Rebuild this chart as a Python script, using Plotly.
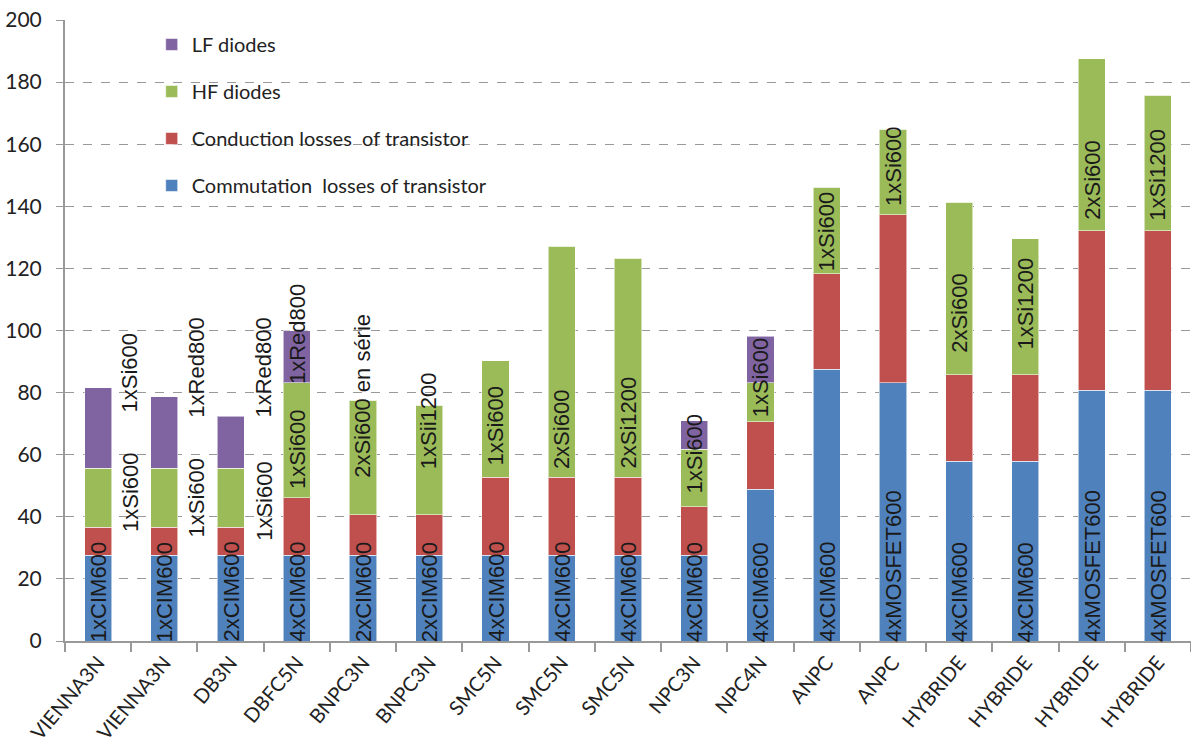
import plotly.graph_objects as go

categories = ["VIENNA3N", "VIENNA3N", "DB3N", "DBFC5N", "BNPC3N", "BNPC3N", "SMC5N", "SMC5N",
              "SMC5N", "NPC3N", "NPC4N", "ANPC", "ANPC", "HYBRIDE", "HYBRIDE", "HYBRIDE", "HYBRIDE"]

commutation = [27.6, 27.6, 27.6, 27.6, 27.6, 27.6, 27.6, 27.6, 27.6, 27.6, 48.8, 87.5, 83.1, 57.9, 57.9, 80.8, 80.8]
conduction = [9.1, 9.1, 9.1, 18.6, 13.0, 13.0, 25.2, 25.2, 25.2, 15.7, 21.8, 30.8, 54.2, 27.9, 27.9, 51.3, 51.3]
hf_diodes = [19.0, 19.0, 19.0, 36.9, 36.9, 35.3, 37.5, 74.4, 70.4, 18.5, 12.5, 27.8, 27.5, 55.5, 43.7, 55.4, 43.7]
lf_diodes = [25.8, 22.9, 16.7, 16.9, 0, 0, 0, 0, 0, 9.1, 15.1, 0, 0, 0, 0, 0, 0]

series_names = ["Commutation  losses of transistor", "Conduction losses  of transistor", "HF diodes", "LF diodes"]
colors = ["#4F81BD", "#C0504D", "#9BBB59", "#8064A2"]

# transistor labels (in blue segment, starting at the base)
transistor_labels = ["1xCIM600", "1xCIM600", "2xCIM600", "4xCIM600", "2xCIM600", "2xCIM600", "4xCIM600",
                     "4xCIM600", "4xCIM600", "4xCIM600", "4xCIM600", "4xCIM600", "4xMOSFET600",
                     "4xCIM600", "4xCIM600", "4xMOSFET600", "4xMOSFET600"]
# diode labels: (x position, y start value, text)
diode_labels = [
    (0.48, 73.9, "1xSi600"), (0.5, 35.5, "1xSi600"),
    (1.49, 72.2, "1xRed800"), (1.49, 33.6, "1xSi600"),
    (2.5, 72.2, "1xRed800"), (2.5, 32.5, "1xSi600"),
    (3, 83.0, "1xRed800"), (3, 49.2, "1xSi600"),
    (4, 52.9, "2xSi600 en série"),
    (5, 55.6, "1xSii1200"),
    (6, 56.7, "1xSi600"),
    (7, 55.6, "2xSi600"),
    (8, 55.9, "2xSi1200"),
    (9, 47.9, "1xSi600"),
    (10, 72.5, "1xSi600"),
    (11, 119.3, "1xSi600"),
    (12, 140.4, "1xSi600"),
    (13, 93.2, "2xSi600"),
    (14, 94.3, "1xSi1200"),
    (15, 135.9, "2xSi600"),
    (16, 135.6, "1xSi1200"),
]
y_ticks = [0, 20, 40, 60, 80, 100, 120, 140, 160, 180, 200]

x = list(range(len(categories)))
fig = go.Figure()
for k, (name, vals, col) in enumerate(zip(series_names, [commutation, conduction, hf_diodes, lf_diodes], colors)):
    fig.add_trace(go.Bar(
        x=x, y=vals, name=name, legendgroup=name, legendrank=10 - k,
        marker=dict(color=col, line=dict(color="rgba(255,255,255,0.55)", width=1)),
        width=0.41,
    ))

label_font = dict(family="Liberation Sans, Arial", size=22, color="#1a1a1a")
for i, t in enumerate(transistor_labels):
    fig.add_annotation(x=i, y=0, text=t, textangle=-90, showarrow=False,
                       xanchor="center", yanchor="bottom", font=label_font, yshift=-2,
                       borderpad=0)
for xi, yv, t in diode_labels:
    fig.add_annotation(x=xi, y=yv, text=t, textangle=-90, showarrow=False,
                       xanchor="center", yanchor="bottom", font=label_font, yshift=-2,
                       borderpad=0)

fig.update_layout(
    barmode="stack",
    width=1191, height=746,
    margin=dict(l=65, r=0, t=20, b=105),
    plot_bgcolor="white", paper_bgcolor="white",
    font=dict(family="Lato, Open Sans", size=20, color="#222"),
    showlegend=True,
    legend=dict(x=0.077, y=0.992, xanchor="left", yanchor="top",
                traceorder="grouped", tracegroupgap=18,
                font=dict(family="Lato", size=20, color="#222"),
                bgcolor="rgba(0,0,0,0)"),
    xaxis=dict(
        range=[-0.5, 16.5], tickmode="array", tickvals=x, ticktext=categories,
        tickangle=-50, ticks="", showgrid=False, showline=True, automargin=False,
        linecolor="#999", linewidth=2, zeroline=False,
        tickfont=dict(family="Lato", size=20, color="#222"),
        minor=dict(tick0=-0.5, dtick=1, ticks="outside", ticklen=9, tickcolor="#999",
                   tickwidth=1.5, showgrid=False),
    ),
    yaxis=dict(
        range=[0, 200], tickmode="array", tickvals=y_ticks, automargin=False,
        ticklabeloverflow="allow",
        showgrid=True, gridcolor="#999", griddash="dash", gridwidth=1,
        showline=True, linecolor="#999", linewidth=2, zeroline=False,
        ticks="outside", ticklen=7, tickcolor="#999",
        ticklabelstandoff=10,
        tickfont=dict(family="Lato", size=21, color="#222"),
    ),
)

fig.write_html("out.html", config={"displayModeBar": False},
               post_script="document.body.style.margin='0';document.body.style.overflow='hidden';")
